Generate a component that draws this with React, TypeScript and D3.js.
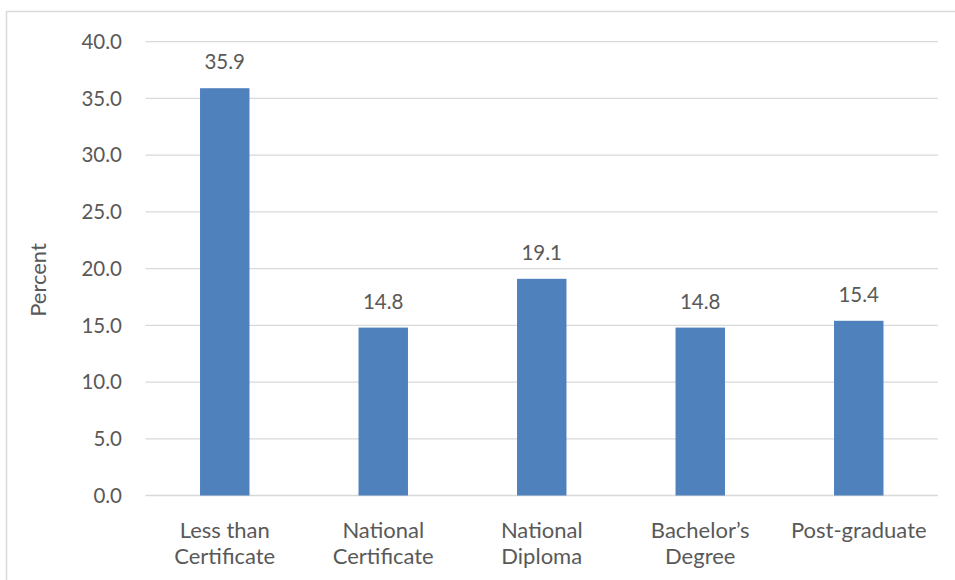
import React from "react";
import * as d3 from "d3";

const categories: string[][] = [
  ["Less than", "Certificate"],
  ["National", "Certificate"],
  ["National", "Diploma"],
  ["Bachelor\u2019s", "Degree"],
  ["Post-graduate"],
];
const values: number[] = [35.9, 14.8, 19.1, 14.8, 15.4];
const yTicks: number[] = [0, 5, 10, 15, 20, 25, 30, 35, 40];
const yAxisTitle = "Percent";

const W = 955;
const H = 580;
const plot = { left: 145.5, right: 938, top: 41.7, bottom: 495.5 };
const FONT = "Lato, 'Open Sans', sans-serif";
const TEXT = "#595959";
const GRID = "#d9d9d9";
const BAR = "#4f81bd";
const NUM_SIZE = 20.5;
const WORD_SIZE = 22;

export default function App() {
  const keys = categories.map((c) => c.join(" "));
  const x = d3
    .scaleBand<string>()
    .domain(keys)
    .range([plot.left, plot.right])
    .paddingInner(0.688)
    .paddingOuter(0.344);
  const y = d3.scaleLinear().domain([0, 40]).range([plot.bottom, plot.top]);

  return (
    <svg
      width={W}
      height={H}
      style={{ position: "absolute", left: 0, top: 0, background: "#fff" }}
      fontFamily={FONT}
    >
      <rect x={6.5} y={11.5} width={W + 20} height={H + 20} fill="#fff" stroke={GRID} strokeWidth={1.5} />

      {yTicks.map((t) => (
        <g key={t}>
          <line x1={plot.left} x2={plot.right} y1={y(t)} y2={y(t)} stroke={GRID} strokeWidth={1.3} />
          <text x={122} y={y(t)} dy="0.35em" textAnchor="end" fontSize={NUM_SIZE} fill={TEXT}>
            {t.toFixed(1)}
          </text>
        </g>
      ))}

      <text
        transform={`translate(${38},${280}) rotate(-90)`}
        textAnchor="middle"
        dy="0.35em"
        fontSize={WORD_SIZE}
        fill={TEXT}
      >
        {yAxisTitle}
      </text>

      {values.map((v, i) => {
        const k = keys[i];
        const bx = x(k)!;
        const bw = x.bandwidth();
        const cx = bx + bw / 2;
        return (
          <g key={k}>
            <rect x={bx} y={y(v)} width={bw} height={y(0) - y(v)} fill={BAR} />
            <text x={cx} y={y(v) - 19} textAnchor="middle" fontSize={NUM_SIZE} fill={TEXT}>
              {v.toFixed(1)}
            </text>
            {categories[i].map((line, j) => (
              <text key={j} x={cx} y={537.5 + j * 26.5} textAnchor="middle" fontSize={WORD_SIZE} fill={TEXT}>
                {line}
              </text>
            ))}
          </g>
        );
      })}
    </svg>
  );
}
